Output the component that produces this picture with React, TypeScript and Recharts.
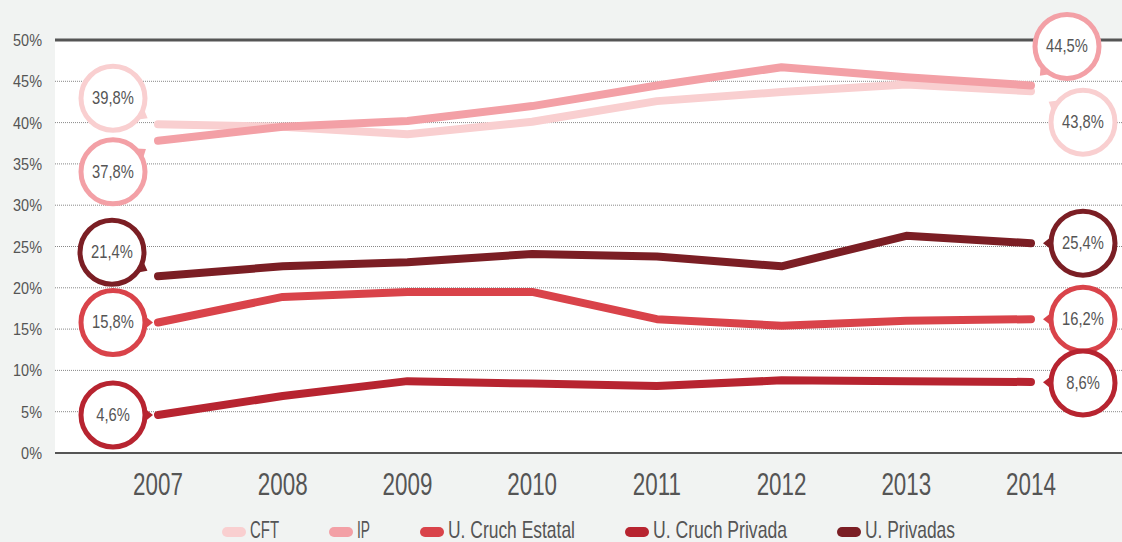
import { CartesianGrid, Legend, Line, LineChart, ReferenceLine, XAxis, YAxis } from "recharts"

const years = ["2007", "2008", "2009", "2010", "2011", "2012", "2013", "2014"]
const cft = [39.8, 39.5, 38.6, 40.1, 42.6, 43.7, 44.6, 43.8]
const ip = [37.8, 39.5, 40.2, 42.0, 44.5, 46.7, 45.5, 44.5]
const cruchEstatal = [15.8, 18.9, 19.5, 19.5, 16.2, 15.4, 16.0, 16.2]
const cruchPrivada = [4.6, 6.9, 8.7, 8.4, 8.1, 8.8, 8.7, 8.6]
const privadas = [21.4, 22.6, 23.1, 24.1, 23.8, 22.6, 26.3, 25.4]
const yTicks = [0, 5, 10, 15, 20, 25, 30, 35, 40, 45, 50]

const data = years.map((year, i) => ({
  year,
  cft: cft[i],
  ip: ip[i],
  cruchEstatal: cruchEstatal[i],
  cruchPrivada: cruchPrivada[i],
  privadas: privadas[i],
}))

const FONT = "'Liberation Sans', Arial, sans-serif"
const TEXT = "#555"

// bubble placement: [dx, dy] from the first / last point; legend text width
const series = [
  { key: "cft", name: "CFT", color: "#f9cfd0", first: [-45, -26], last: [52, 31], tw: 29 },
  { key: "ip", name: "IP", color: "#f3a0a6", first: [-45, 31], last: [36, -39], tw: 13 },
  { key: "cruchEstatal", name: "U. Cruch Estatal", color: "#d9434a", first: [-45, 0], last: [52, 0], tw: 127 },
  { key: "cruchPrivada", name: "U. Cruch Privada", color: "#b72430", first: [-45, 0], last: [52, 1], tw: 134 },
  { key: "privadas", name: "U. Privadas", color: "#7b1e24", first: [-46, -24], last: [52, 0], tw: 90 },
]

// narrow text, squeezed horizontally
function NText({ x, y, size, sx, anchor, children }: any) {
  return (
    <text
      transform={`translate(${x},${y}) scale(${sx},1)`}
      textAnchor={anchor}
      fontSize={size}
      fontFamily={FONT}
      fill={TEXT}
    >
      {children}
    </text>
  )
}

function bubble(color: string, first: number[], last: number[]) {
  return (props: any) => {
    const { x, y, index, value } = props
    if (index !== 0 && index !== years.length - 1) return null
    const off = index === 0 ? first : last
    const cx = x + off[0]
    const cy = y + off[1]
    const r = 32
    const a = Math.atan2(y - cy, x - cx)
    const tip = r + 8
    const tx = cx + Math.cos(a) * tip
    const ty = cy + Math.sin(a) * tip
    const b1x = cx + Math.cos(a - 0.18) * (r + 1)
    const b1y = cy + Math.sin(a - 0.18) * (r + 1)
    const b2x = cx + Math.cos(a + 0.18) * (r + 1)
    const b2y = cy + Math.sin(a + 0.18) * (r + 1)
    return (
      <g key={`b-${index}`}>
        <polygon points={`${tx},${ty} ${b1x},${b1y} ${b2x},${b2y}`} fill={color} />
        <circle cx={cx} cy={cy} r={r} fill="#fff" stroke={color} strokeWidth={5} />
        <NText x={cx} y={cy + 6} size={18} sx={0.82} anchor="middle">
          {value.toFixed(1).replace(".", ",")}%
        </NText>
      </g>
    )
  }
}

function XTick({ x, y, payload }: any) {
  return (
    <NText x={x} y={y + 34} size={32} sx={0.7} anchor="middle">
      {payload.value}
    </NText>
  )
}

function YTick({ y, payload }: any) {
  return (
    <NText x={42} y={y + 6} size={17} sx={0.85} anchor="end">
      {`${payload.value}%`}
    </NText>
  )
}

function LegendBox() {
  let cur = 222
  const items = series.map((s) => {
    const x0 = cur
    cur += 24 + 4 + s.tw + 50
    return (
      <g key={s.key}>
        <rect x={x0} y={13} width={24} height={10} rx={5} fill={s.color} />
        <text
          x={x0 + 28}
          y={24}
          fontSize={24}
          fontFamily={FONT}
          fill={TEXT}
          textLength={s.tw}
          lengthAdjust="spacingAndGlyphs"
        >
          {s.name}
        </text>
      </g>
    )
  })
  return (
    <svg width={1122} height={28} style={{ display: "block", overflow: "visible" }}>
      {items}
    </svg>
  )
}

export default function App() {
  return (
    <div style={{ position: "absolute", left: 0, top: 0, width: 1122, height: 542, background: "#f1f3f2" }}>
      <LineChart width={1122} height={542} data={data} margin={{ top: 40, right: 0, bottom: 0, left: 0 }}>
        <CartesianGrid vertical={false} fill="#fff" stroke="#888" strokeDasharray="1 1" />
        <XAxis
          dataKey="year"
          padding={{ left: 103, right: 91 }}
          axisLine={{ stroke: "#555", strokeWidth: 2 }}
          tickLine={false}
          height={61}
          tick={<XTick />}
        />
        <YAxis
          width={55}
          domain={[0, 50]}
          ticks={yTicks}
          axisLine={false}
          tickLine={false}
          tick={<YTick />}
        />
        <ReferenceLine y={50} stroke="#555" strokeWidth={3} />
        {series.map((s) => (
          <Line
            key={s.key}
            dataKey={s.key}
            name={s.name}
            type="linear"
            stroke={s.color}
            strokeWidth={8}
            strokeLinecap="round"
            strokeLinejoin="round"
            dot={false}
            activeDot={false}
            isAnimationActive={false}
            label={bubble(s.color, s.first, s.last)}
          />
        ))}
        <Legend
          verticalAlign="bottom"
          height={28}
          wrapperStyle={{ left: 0, bottom: 0, width: 1122 }}
          content={() => <LegendBox />}
        />
      </LineChart>
    </div>
  )
}
